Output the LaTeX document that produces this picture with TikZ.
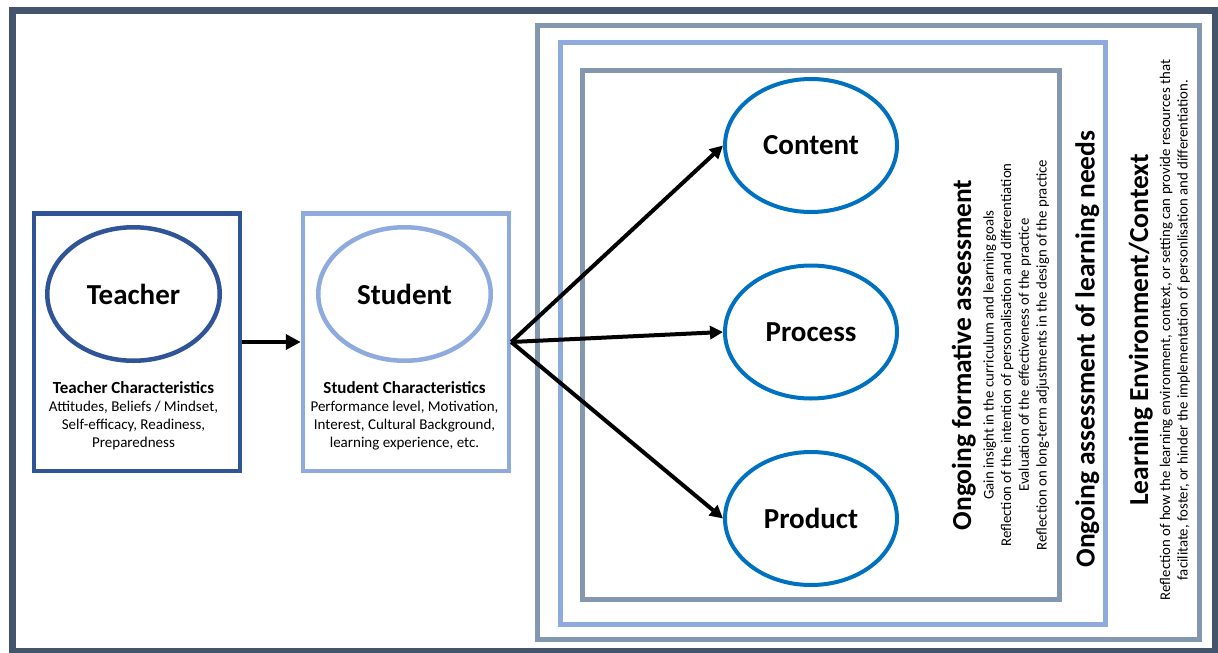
\documentclass[tikz,border=0pt]{standalone}
\usepackage{fontspec}
\setmainfont{Carlito}
\usepackage{tikz}
\usetikzlibrary{shapes,positioning,arrows.meta}
\definecolor{frameslate}{HTML}{44546A}
\definecolor{boxgray}{HTML}{8497B0}
\definecolor{boxlight}{HTML}{8FAADC}
\definecolor{teacherblue}{HTML}{2F5597}
\definecolor{dimblue}{HTML}{0070C0}
\tikzset{
  person/.style={ellipse,draw,line width=4.5pt,inner sep=0pt,minimum width=172.5pt,minimum height=133.5pt,font=\bfseries\fontsize{29}{34}\selectfont},
  dimension/.style={ellipse,draw=dimblue,line width=4pt,inner sep=0pt,minimum width=172pt,minimum height=133pt,font=\bfseries\fontsize{29}{34}\selectfont},
  charbox/.style={draw,line width=4.5pt,inner sep=0pt,minimum width=206pt,minimum height=257.5pt},
  chartext/.style={align=center,inner sep=0pt,font=\fontsize{15}{18}\selectfont},
  sidetitle/.style={rotate=90,anchor=base,inner sep=0pt,font=\bfseries\fontsize{27.5}{33}\selectfont},
  sidetext/.style={rotate=90,anchor=base,inner sep=0pt,font=\fontsize{14.8}{18}\selectfont},
  flow/.style={line width=4pt,-{Triangle[length=13pt,width=13pt]}}
}

\begin{document}
\begin{tikzpicture}[x=1pt,y=-1pt]
\useasboundingbox (0,0) rectangle (1218,653);

% frames
\draw[frameslate, line width=7pt] (12.5,10) rectangle (1215,651);
\draw[boxgray, line width=5pt] (537.5,25.5) rectangle (1199.5,639.5);
\draw[boxlight, line width=5pt] (560.5,42.5) rectangle (1105.5,624.5);
\draw[boxgray, line width=5pt] (582.5,70.5) rectangle (1059.5,599.5);

% teacher and student
\node[charbox, draw=teacherblue] (teacherbox) at (137,342) {};
\node[person, draw=teacherblue] (teacher) at (133.5,294) {Teacher};
\node[chartext, below=18pt of teacher] (teachertext) {\textbf{\fontsize{17}{18}\selectfont Teacher Characteristics}\\Attitudes, Beliefs / Mindset,\\Self-efficacy, Readiness,\\Preparedness};

\node[charbox, draw=boxlight] (studentbox) at (406,342) {};
\node[person, draw=boxlight] (student) at (404.5,294) {Student};
\node[chartext, below=18pt of student] (studenttext) {\textbf{\fontsize{17}{18}\selectfont Student Characteristics}\\Performance level, Motivation,\\Interest, Cultural Background,\\learning experience, etc.};

% differentiation dimensions
\node[dimension] (content) at (811,145.5) {Content};
\node[dimension] (process) at (811,332) {Process};
\node[dimension] (product) at (811,518.5) {Product};

\draw[flow, line width=4.5pt, -{Triangle[length=15pt,width=15pt]}] (teacherbox.east) -- (studentbox.west);
\draw[flow] (studentbox.east) -- (content.west);
\draw[flow] (studentbox.east) -- (process.west);
\draw[flow] (studentbox.east) -- (product.west);

% side labels
\node[sidetitle] (formative) at (971,355) {Ongoing formative assessment};
\node[sidetext] (form1) at (993.5,355) {Gain insight in the curriculum and learning goals};
\node[sidetext] (form2) at (1011.2,355) {Reflection of the intention of personalisation and differentiation};
\node[sidetext] (form3) at (1028.9,355) {Evaluation of the effectiveness of the practice};
\node[sidetext] (form4) at (1046.6,355) {Reflection on long-term adjustments in the design of the practice};

\node[sidetitle] (needs) at (1094.5,349) {Ongoing assessment of learning needs};

\node[sidetitle] (context) at (1148,330) {Learning Environment/Context};
\node[sidetext] (context1) at (1170,330) {Reflection of how the learning environment, context, or setting can provide resources that};
\node[sidetext] (context2) at (1187.5,330) {facilitate, foster, or hinder the implementation of personlisation and differentiation.};

\end{tikzpicture}
\end{document}
